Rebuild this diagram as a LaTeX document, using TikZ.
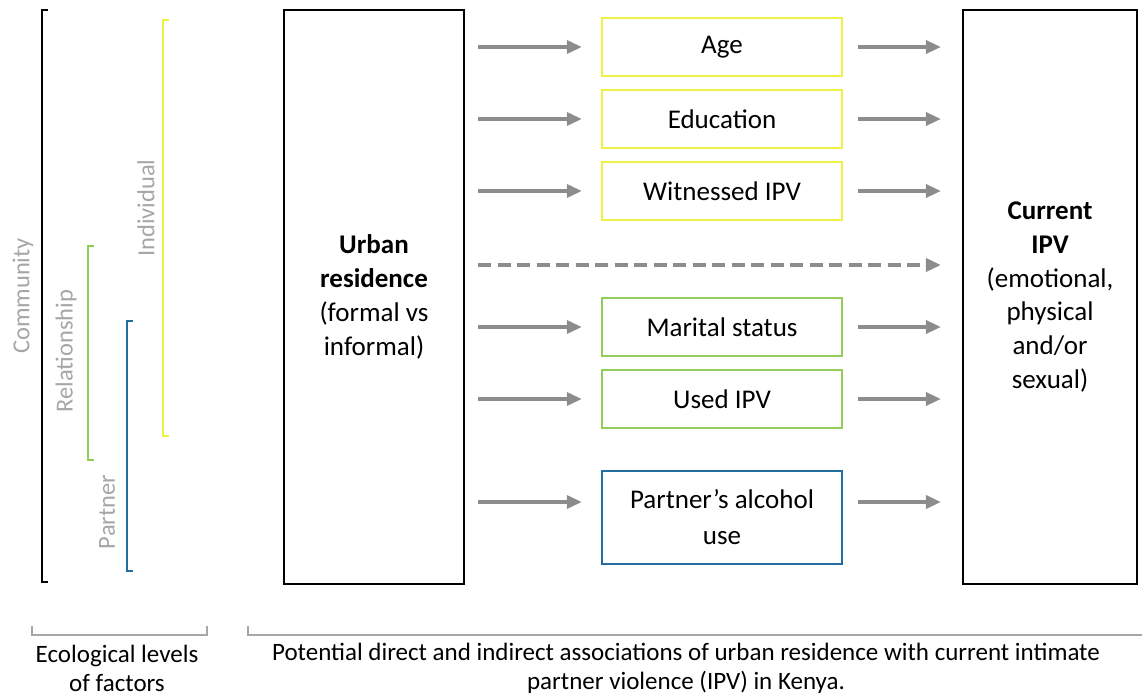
\documentclass[tikz,border=0pt]{standalone}
\usepackage{fontspec}
\setmainfont{Carlito}
\usetikzlibrary{arrows.meta}

\definecolor{lvlyellow}{RGB}{240,240,70}
\definecolor{lvlgreen}{RGB}{146,204,90}
\definecolor{lvlblue}{RGB}{35,110,160}
\definecolor{lvlgray}{RGB}{166,166,166}
\definecolor{arrgray}{RGB}{140,140,140}

\tikzset{
  bigbox/.style={draw=black, line width=2.2pt, align=center, inner sep=0pt,
    minimum height=574pt, font=\fontsize{27}{33.8}\selectfont},
  factor/.style={draw=#1, line width=2.4pt, align=center, inner sep=0pt,
    minimum width=240pt, font=\fontsize{27}{36}\selectfont},
  lvlbar/.style={line width=2pt, draw=#1},
  lvllabel/.style={rotate=90, text=lvlgray, inner sep=0pt,
    font=\fontsize{24.5}{28}\selectfont},
  arr/.style={draw=arrgray, line width=3.5pt, -{Triangle[length=15pt, width=13pt]}},
  lefta/.style={arr, shorten <=13pt, shorten >=19pt},
  righta/.style={arr, shorten <=15pt, shorten >=21pt},
  brace/.style={draw=lvlgray, line width=1.5pt},
  foot/.style={align=center, inner sep=0pt, font=\fontsize{25}{29}\selectfont}
}

\begin{document}
\begin{tikzpicture}[x=1pt, y=-1pt]
  \useasboundingbox (0,0) rectangle (1142,698);

  % ecological level brackets
  \draw[lvlbar=black]     (48,10)  -- (42,10)  -- (42,582) -- (48,582);
  \draw[lvlbar=lvlgreen]  (94,246) -- (88,246) -- (88,460) -- (94,460);
  \draw[lvlbar=lvlblue]   (133,321) -- (127,321) -- (127,571) -- (133,571);
  \draw[lvlbar=lvlyellow] (169,20) -- (163,20) -- (163,436) -- (169,436);

  \node[lvllabel] (community)    at (23,296)  {Community};
  \node[lvllabel] (relationship) at (66,351)  {Relationship};
  \node[lvllabel] (individual)   at (146,208) {Individual};
  \node[lvllabel] (partnerlvl)   at (107,512) {Partner};

  % exposure and outcome
  \node[bigbox, minimum width=180pt] (urban) at (374,297)
    {\textbf{Urban}\\\textbf{residence}\\(formal vs\\informal)};
  \node[bigbox, minimum width=174pt] (ipv) at (1050,297)
    {\textbf{Current}\\\textbf{IPV}\\(emotional,\\physical\\and/or\\sexual)};

  % mediating factors
  \node[factor=lvlyellow, minimum height=58pt] (age)     at (722,47)  {Age};
  \node[factor=lvlyellow, minimum height=58pt] (edu)     at (722,119) {Education};
  \node[factor=lvlyellow, minimum height=58pt] (witness) at (722,191) {Witnessed IPV};
  \node[factor=lvlgreen,  minimum height=58pt] (marital) at (722,327) {Marital status};
  \node[factor=lvlgreen,  minimum height=58pt] (used)    at (722,399) {Used IPV};
  \node[factor=lvlblue,   minimum height=93pt] (alcohol) at (722,517.5)
    {Partner’s alcohol\\use};

  \coordinate (alcin)  at ([yshift=15.5pt]alcohol.west);
  \coordinate (alcout) at ([yshift=15.5pt]alcohol.east);

  % indirect paths
  \foreach \f in {age, edu, witness, marital, used} {
    \draw[lefta]  (urban.east |- \f.west) -- (\f.west);
    \draw[righta] (\f.east) -- (ipv.west |- \f.east);
  }
  \draw[lefta]  (urban.east |- alcin) -- (alcin);
  \draw[righta] (alcout) -- (ipv.west |- alcout);

  % direct path
  \coordinate (direct) at (0,265);
  \draw[arr, line width=4pt, dash pattern=on 13pt off 6.5pt,
        shorten <=13pt, shorten >=21pt]
    (urban.east |- direct) -- (ipv.west |- direct);

  % captions with their brackets
  \coordinate (b1l) at (32,626);
  \coordinate (b1r) at (207,626);
  \coordinate (b2l) at (248,626);
  \coordinate (b2r) at (1150,626);
  \draw[brace] (b1l) -- ++(0,9) -| (b1r);
  \draw[brace] (b2l) -- ++(0,9) -| (b2r);

  \node[foot] (ecocap) at (117,668) {Ecological levels\\of factors};
  \node[foot] (maincap) at (686,668)
    {Potential direct and indirect associations of urban residence with current intimate\\partner violence (IPV) in Kenya.};
\end{tikzpicture}
\end{document}
